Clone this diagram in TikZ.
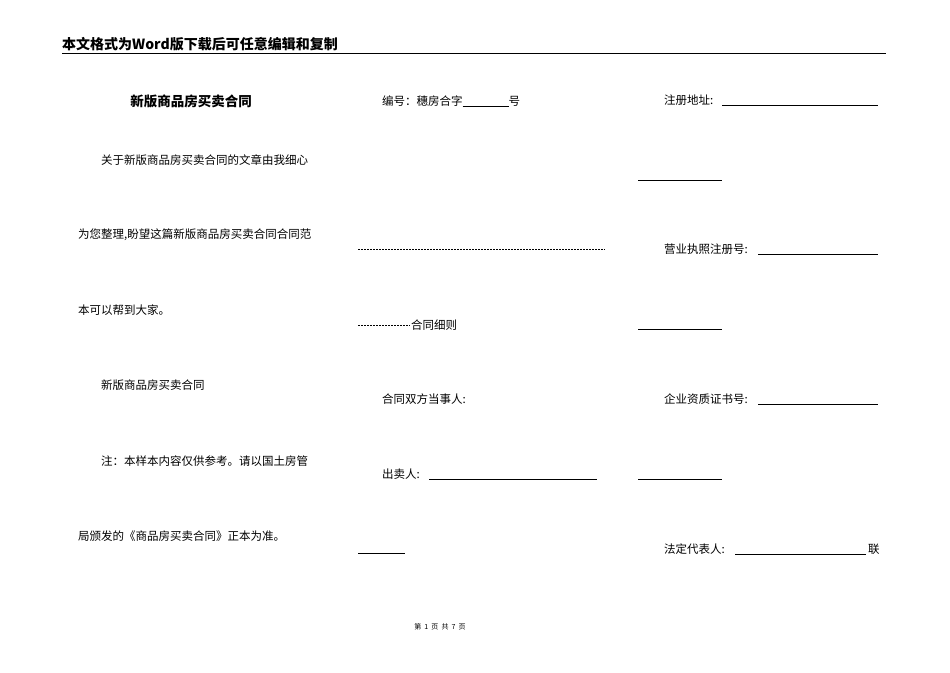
\documentclass[tikz,border=0pt]{standalone}
\usepackage{fontspec}
\setmainfont{Noto Sans CJK SC}
\begin{document}
\begin{tikzpicture}[x=1pt,y=-1pt,
  txt/.style={anchor=west,inner sep=0pt,font=\fontsize{11.5}{13}\selectfont},
  uline/.style={line width=0.5pt}]
\useasboundingbox (0,0) rectangle (950,672);
\node[anchor=west,inner sep=0pt,font=\fontsize{14}{16}\selectfont\bfseries] (hdr) at (62,44) {本文格式为Word版下载后可任意编辑和复制};
\draw[line width=0.8pt] (62,53) coordinate (h1) -- (886,53) coordinate (h2);
% column 1
\node[inner sep=0pt,font=\fontsize{13.5}{15}\selectfont\bfseries] (title) at (191,101) {新版商品房买卖合同};
\node[txt] (p1) at (101,160) {关于新版商品房买卖合同的文章由我细心};
\node[txt] (p2) at (78,235) {为您整理,盼望这篇新版商品房买卖合同合同范};
\node[txt] (p3) at (78,310) {本可以帮到大家。};
\node[txt] (p4) at (101,385) {新版商品房买卖合同};
\node[txt] (p5) at (101,461) {注：本样本内容仅供参考。请以国土房管};
\node[txt] (p6) at (78,536) {局颁发的《商品房买卖合同》正本为准。};
% column 2
\node[txt] (no) at (382,101) {编号：穗房合字\rule[-1pt]{46pt}{0.5pt}号};
\draw[uline,dash pattern=on 2pt off 1pt] (358,249) coordinate (d1) -- (605,249) coordinate (d2);
\draw[uline,dash pattern=on 2pt off 1pt] (358,325) coordinate (d3) -- (410,325) coordinate (d4);
\node[txt] (xz) at (411,325) {合同细则};
\node[txt] (sf) at (382,399) {合同双方当事人:};
\node[txt] (cm) at (382,474) {出卖人:};
\draw[uline] (429,479) coordinate (u1) -- (597,479) coordinate (u2);
\draw[uline] (358,553) coordinate (u3) -- (405,553) coordinate (u4);
% column 3
\node[txt] (dz) at (664,100) {注册地址:};
\draw[uline] (722,105) coordinate (v1) -- (878,105) coordinate (v2);
\draw[uline] (638,180) coordinate (v3) -- (722,180) coordinate (v4);
\node[txt] (yy) at (664,249) {营业执照注册号:};
\draw[uline] (758,254) coordinate (v5) -- (878,254) coordinate (v6);
\draw[uline] (638,329) coordinate (v7) -- (722,329) coordinate (v8);
\node[txt] (zz) at (664,399) {企业资质证书号:};
\draw[uline] (758,404) coordinate (v9) -- (878,404) coordinate (v10);
\draw[uline] (638,479) coordinate (v11) -- (722,479) coordinate (v12);
\node[txt] (fd) at (664,549) {法定代表人:};
\draw[uline] (735,554) coordinate (v13) -- (866,554) coordinate (v14);
\node[txt] (lian) at (868,549) {联};
% footer
\node[inner sep=0pt,font=\fontsize{7}{8}\selectfont] (ft) at (440,627) {第\ \ 1\ \ 页\ \ 共\ \ 7\ \ 页};
\end{tikzpicture}
\end{document}
